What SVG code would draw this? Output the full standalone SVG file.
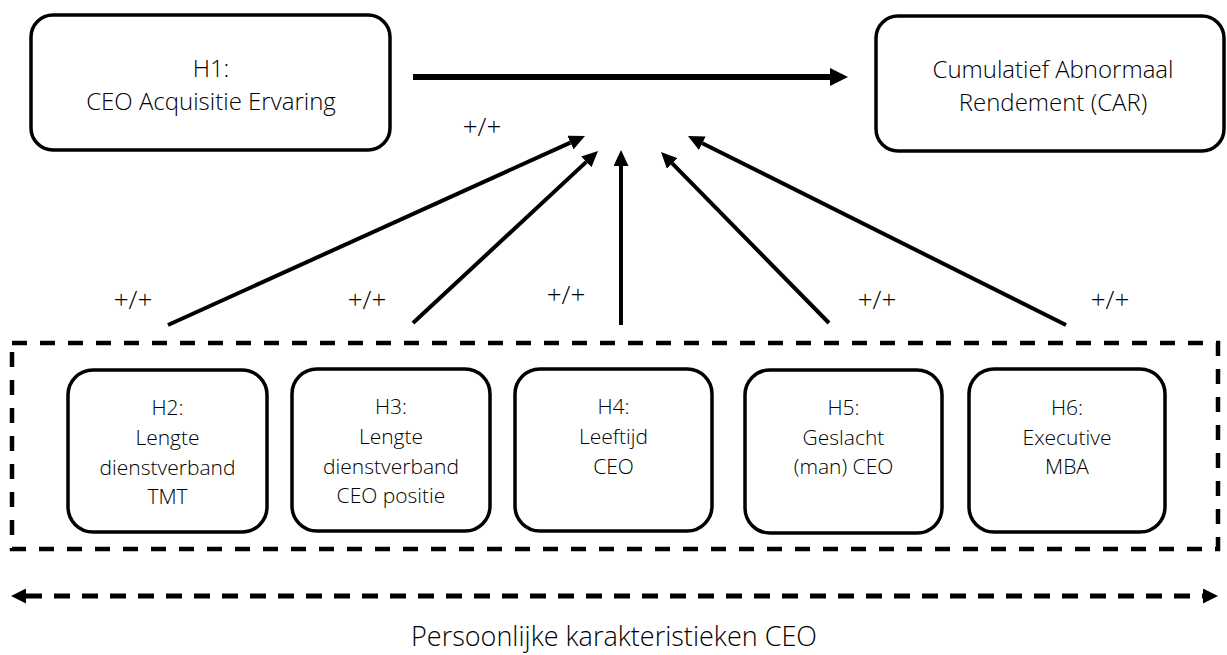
<svg xmlns="http://www.w3.org/2000/svg" width="1227" height="655" viewBox="0 0 1227 655">
<style>
.box{fill:#fff;stroke:#000;stroke-width:3.5}
.t{font-family:"Open Sans","Liberation Sans",sans-serif;font-weight:300;fill:#000;text-anchor:middle}
.big{font-size:24px}
.sm{font-size:21px}
.lbl{font-size:26px}
.conn{stroke:#000;stroke-width:4;fill:none}
</style>
<defs>
<marker id="ah" markerUnits="userSpaceOnUse" markerWidth="16" markerHeight="15" refX="0" refY="7.5" orient="auto" viewBox="0 0 16 15"><path d="M0,0 L16,7.5 L0,15 z" fill="#000"/></marker>
<marker id="ahBig" markerUnits="userSpaceOnUse" markerWidth="18" markerHeight="18" refX="0" refY="9" orient="auto" viewBox="0 0 18 18"><path d="M0,0 L18,9 L0,18 z" fill="#000"/></marker>
<marker id="ahD" markerUnits="userSpaceOnUse" markerWidth="15" markerHeight="15" refX="0" refY="7.5" orient="auto-start-reverse" viewBox="0 0 15 15"><path d="M0,0 L15,7.5 L0,15 z" fill="#000"/></marker>
</defs>
<rect width="1227" height="655" fill="#fff"/>

<g id="group-personal">
<rect x="12" y="343" width="1206" height="206" fill="none" stroke="#000" stroke-width="4.5" stroke-dasharray="15 13"/>
</g>

<g id="node-h1">
<rect class="box" x="31" y="15" width="359" height="135" rx="22"/>
<text class="t big" x="211" y="77">H1:</text>
<text class="t big" x="211" y="110">CEO Acquisitie Ervaring</text>
</g>
<g id="node-car">
<rect class="box" x="876" y="16" width="348" height="135" rx="22"/>
<text class="t big" x="1053" y="78">Cumulatief Abnormaal</text>
<text class="t big" x="1053" y="111">Rendement (CAR)</text>
</g>
<g id="node-h2">
<rect class="box" x="68" y="370" width="199" height="162" rx="25"/>
<text class="t sm" x="167.5" y="415">H2:</text>
<text class="t sm" x="167.5" y="445">Lengte</text>
<text class="t sm" x="167.5" y="475">dienstverband</text>
<text class="t sm" x="167.5" y="504">TMT</text>
</g>
<g id="node-h3">
<rect class="box" x="292" y="369" width="198" height="162" rx="25"/>
<text class="t sm" x="391" y="414">H3:</text>
<text class="t sm" x="391" y="444">Lengte</text>
<text class="t sm" x="391" y="474">dienstverband</text>
<text class="t sm" x="391" y="503">CEO positie</text>
</g>
<g id="node-h4">
<rect class="box" x="515" y="369" width="197" height="162" rx="25"/>
<text class="t sm" x="613.5" y="414">H4:</text>
<text class="t sm" x="613.5" y="444">Leeftijd</text>
<text class="t sm" x="613.5" y="474">CEO</text>
</g>
<g id="node-h5">
<rect class="box" x="745" y="370" width="197" height="163" rx="25"/>
<text class="t sm" x="843.5" y="415">H5:</text>
<text class="t sm" x="843.5" y="445">Geslacht</text>
<text class="t sm" x="843.5" y="474">(man) CEO</text>
</g>
<g id="node-h6">
<rect class="box" x="969" y="369" width="196" height="163" rx="25"/>
<text class="t sm" x="1067" y="415">H6:</text>
<text class="t sm" x="1067" y="445">Executive</text>
<text class="t sm" x="1067" y="474">MBA</text>
</g>

<g id="connectors">
<line x1="413" y1="77" x2="830" y2="77" stroke="#000" stroke-width="6" marker-end="url(#ahBig)"/>
<line class="conn" x1="168" y1="325" x2="570.4" y2="142.6" marker-end="url(#ah)"/>
<line class="conn" x1="413" y1="323" x2="586.3" y2="161.9" marker-end="url(#ah)"/>
<line class="conn" x1="621" y1="325" x2="621" y2="166" marker-end="url(#ah)"/>
<line class="conn" x1="829" y1="323" x2="672.2" y2="163.4" marker-end="url(#ah)"/>
<line class="conn" x1="1066" y1="325" x2="702.3" y2="143.2" marker-end="url(#ah)"/>
<line x1="26" y1="596" x2="1203" y2="596" stroke="#000" stroke-width="5" stroke-dasharray="16 12" marker-start="url(#ahD)" marker-end="url(#ahD)"/>
</g>

<g id="labels">
<text class="t lbl" x="482" y="136">+/+</text>
<text class="t lbl" x="133" y="309">+/+</text>
<text class="t lbl" x="367" y="309">+/+</text>
<text class="t lbl" x="566" y="304">+/+</text>
<text class="t lbl" x="877" y="309">+/+</text>
<text class="t lbl" x="1110" y="309">+/+</text>
<text class="t" style="font-size:27px" x="614" y="646">Persoonlijke karakteristieken CEO</text>
</g>
</svg>
